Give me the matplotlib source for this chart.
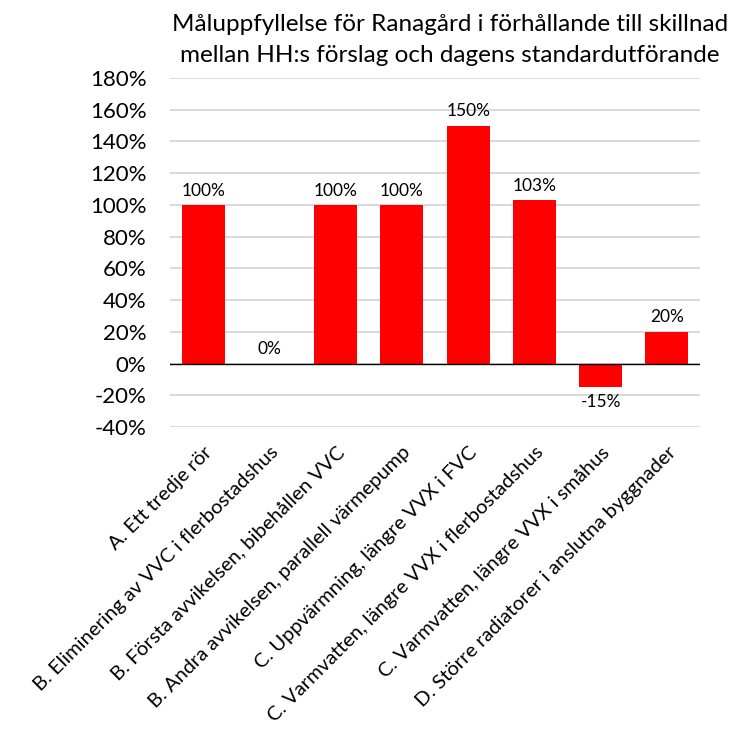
import numpy as np
import matplotlib
matplotlib.use("Agg")
import matplotlib.pyplot as plt
from matplotlib.ticker import PercentFormatter

plt.rcParams['font.family'] = ['Lato', 'DejaVu Sans']
plt.rcParams['axes.unicode_minus'] = False

categories = [
    "A. Ett tredje rör",
    "B. Eliminering av VVC i flerbostadshus",
    "B. Första avvikelsen, bibehållen VVC",
    "B. Andra avvikelsen, parallell värmepump",
    "C. Uppvärmning, längre VVX i FVC",
    "C. Varmvatten, längre VVX i flerbostadshus",
    "C. Varmvatten, längre VVX i småhus",
    "D. Större radiatorer i anslutna byggnader",
]
values = [100, 0, 100, 100, 150, 103, -15, 20]
title = "Måluppfyllelse för Ranagård i förhållande till skillnad\nmellan HH:s förslag och dagens standardutförande"

fig = plt.figure(figsize=(7.38, 7.42), dpi=100)
ax = fig.add_axes([170/738, 1 - 427/742, 530/738, (427-78)/742])

x = np.arange(len(values))
ax.bar(x, values, width=0.65, color='#ff0000', zorder=3)
ax.set_xlim(-0.5, len(values) - 0.5)
ax.set_ylim(-40, 180)
ax.set_yticks(np.arange(-40, 181, 20))
ax.yaxis.set_major_formatter(PercentFormatter(decimals=0))
ax.grid(axis='y', color='#d9d9d9', linewidth=1.4, zorder=0)
ax.axhline(0, color='black', linewidth=1, zorder=4)
for s in ax.spines.values():
    s.set_visible(False)
ax.tick_params(axis='both', length=0)
ax.tick_params(axis='y', labelsize=16, pad=17)

ax.set_xticks(x)
ax.set_xticklabels(categories, rotation=45, ha='right', rotation_mode='anchor', fontsize=14.5)
ax.tick_params(axis='x', pad=12)

for xi, v in zip(x, values):
    if v < 0:
        ax.text(xi, v - 4, f"{v}%", ha='center', va='top', fontsize=12.5)
    else:
        ax.text(xi, v + 4, f"{v}%", ha='center', va='bottom', fontsize=12.5)

fig.text(450/738, 1 - 40/742, title, ha='center', va='center', fontsize=17.5, linespacing=1.55)

fig.savefig("out.png", dpi=100)
